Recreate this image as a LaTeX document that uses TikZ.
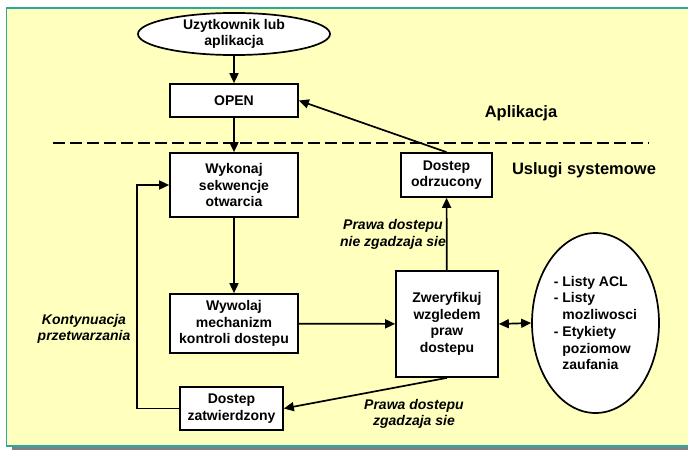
\documentclass[tikz,border=0pt]{standalone}
\usepackage{fontspec}
\setmainfont{Liberation Sans}
\usetikzlibrary{shapes.geometric,arrows.meta}
\definecolor{bgy}{RGB}{255,255,190}
\definecolor{frameteal}{RGB}{40,170,160}
\definecolor{shadowgray}{RGB}{128,128,128}
\begin{document}
\begin{tikzpicture}[x=1pt,y=-1pt,
  every node/.style={font=\fontsize{14}{16.7}\selectfont\bfseries},
  box/.style={draw, fill=white, line width=1.7pt, inner sep=0pt, align=center},
  ell/.style={ellipse, draw, fill=white, line width=1.7pt, inner sep=0pt},
  conn/.style={line width=1.7pt, -{Triangle[length=10pt,width=9pt]}},
  lbl/.style={font=\fontsize{14}{16.7}\selectfont\bfseries\itshape, align=center},
  big/.style={font=\fontsize{16.5}{19}\selectfont\bfseries}]
\useasboundingbox (0,0) rectangle (688,450);
\fill[white] (0,0) rectangle (688,450);
\fill[shadowgray] (12,446.5) rectangle (688,450);
\draw[frameteal, line width=1.5pt, fill=bgy] (6.5,8) rectangle (700,446);

\node[ell, minimum width=192pt, minimum height=38pt, align=center] (user) at (234,34) {Uzytkownik lub\\aplikacja};
\node[box, minimum width=128pt, minimum height=33pt] (open) at (234,100.5) {OPEN};
\node[box, minimum width=128pt, minimum height=64pt] (wyk) at (234,185) {Wykonaj\\sekwencje\\otwarcia};
\node[box, minimum width=128pt, minimum height=59pt] (wyw) at (234,323.5) {Wywolaj\\mechanizm\\kontroli dostepu};
\node[box, minimum width=103pt, minimum height=43pt] (zatw) at (231.5,408.5) {Dostep\\zatwierdzony};
\node[box, minimum width=91pt, minimum height=44pt] (odrz) at (446.5,175) {Dostep\\odrzucony};
\node[box, minimum width=102pt, minimum height=106pt] (zwe) at (447,324) {Zweryfikuj\\wzgledem\\praw\\dostepu};
\node[ell, minimum width=127pt, minimum height=180pt, align=left] (lists) at (595.5,323) {- Listy ACL\\- Listy\\\phantom{- }mozliwosci\\- Etykiety\\\phantom{- }poziomow\\\phantom{- }zaufania};

\coordinate (dl) at (53,143);
\coordinate (dr) at (649,143);
\draw[line width=1.7pt, dash pattern=on 12pt off 5pt] (dl) -- (dr);

\node[big] (apl) at (521,113) {Aplikacja};
\node[big] (usl) at (584,170) {Uslugi systemowe};

\draw[conn] (user) -- (open);
\draw[conn] (open) -- (wyk);
\draw[conn] (wyk) -- (wyw);
\draw[conn] (wyw) -- (zwe);
\draw[conn] (zwe) -- (odrz);
\draw[conn] (odrz.north) -- (open.east);
\draw[conn] (zwe.south) -- (zatw.east);
\draw[conn] (zatw.west) -- ++(-42,0) |- (wyk.west);
\draw[line width=1.7pt, {Triangle[length=10pt,width=9pt]}-{Triangle[length=10pt,width=9pt]}] (zwe.east) -- (lists.west);

\node[lbl] (kont) at (84,329) {Kontynuacja\\przetwarzania};
\node[lbl] (nzg) at (393,234.5) {Prawa dostepu\\nie zgadzaja sie};
\node[lbl] (zg) at (414,414) {Prawa dostepu\\zgadzaja sie};
\end{tikzpicture}
\end{document}
